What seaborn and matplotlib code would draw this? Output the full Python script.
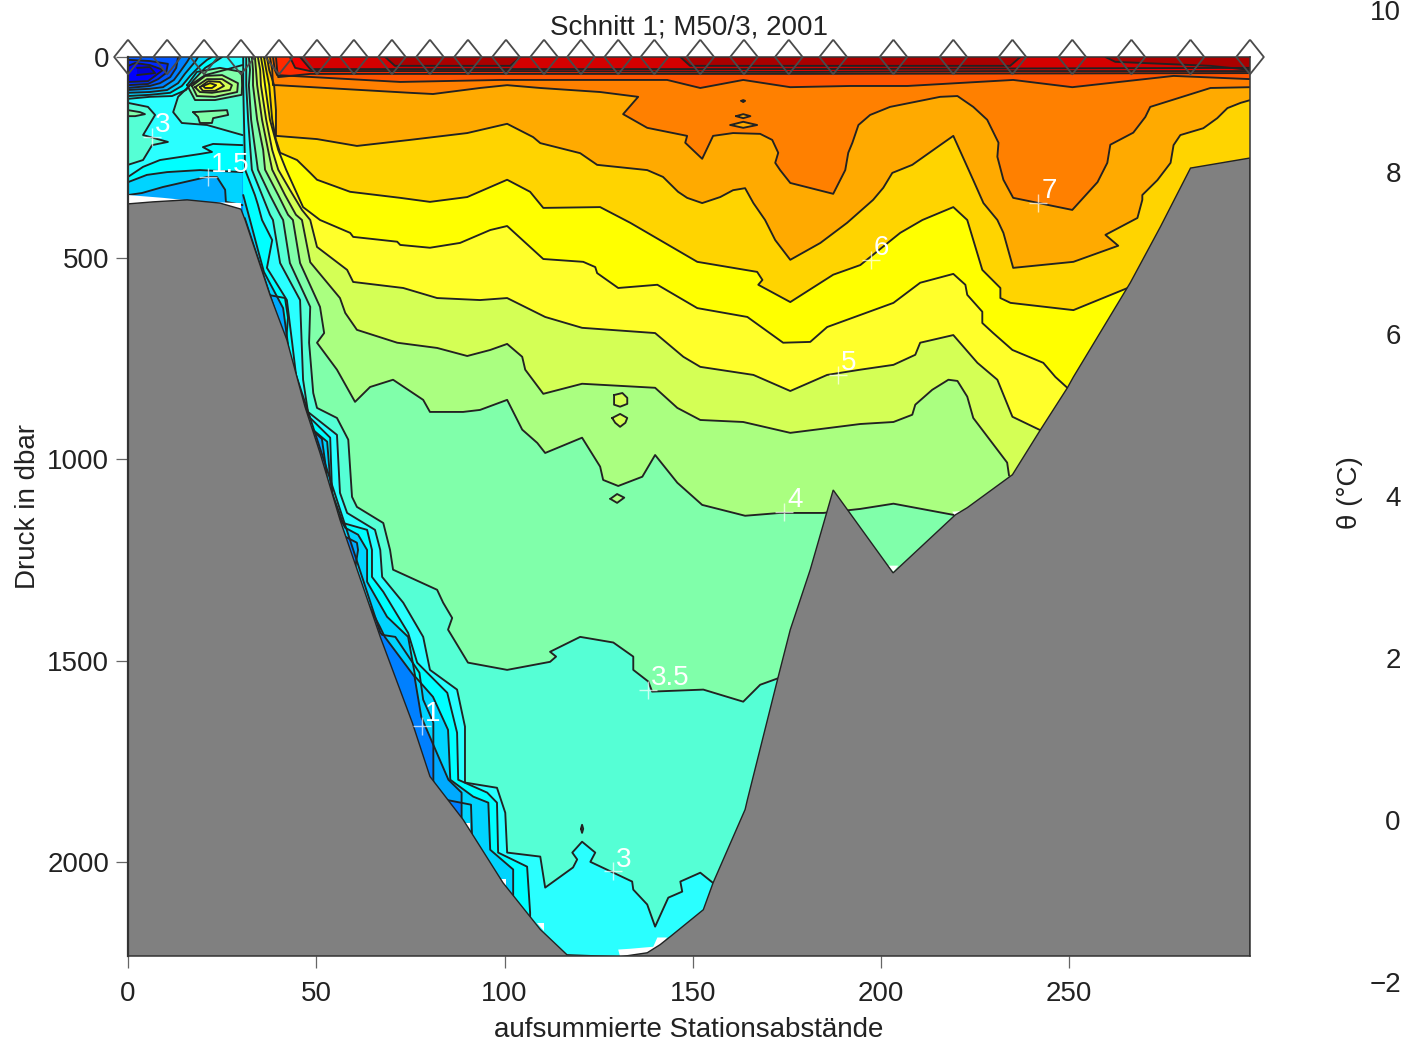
import matplotlib
matplotlib.use('Agg')
import matplotlib.pyplot as plt
import seaborn as sns

sns.set_theme(style='ticks')
plt.rcParams['font.family'] = ['Liberation Sans', 'DejaVu Sans']

X_MAX = 298
D_MAX = 2234

# Station positions (km along the section)
stations = [0, 10.4, 20.2, 30, 40.1, 50.2, 60, 70.1, 80.2, 90.3, 100.4, 110.5, 120.3, 130.2,
            139.8, 152, 163.6, 175.5, 187.3, 203.3, 219.2, 234.9, 250.8, 266.5, 282.2, 298]

# Sea floor
bottom_x = [0, 6.6, 15.7, 24.4, 30, 31.1, 37.7, 42.2, 47, 51, 56.3, 67, 75.5, 80.2, 89, 99.6, 109.5, 116.6,
            130.7, 137.9, 141.3, 144, 152.8, 155.4, 163.9, 164.5, 172.7, 175.9, 181.2, 187.3, 203.2, 219.7,
            222.9, 234.9, 242.3, 249.5, 251.1, 266.2, 274.2, 282.2, 298]
bottom_d = [365, 360, 355, 363, 378, 405, 591, 703, 869, 984, 1150, 1441, 1654, 1788, 1895, 2052, 2168, 2231,
            2236, 2226, 2206, 2186, 2119, 2052, 1870, 1846, 1540, 1423, 1274, 1076, 1282, 1138,
            1120, 1038, 927, 822, 795, 561, 422, 276, 251]

# Isotherm depths, main section
x_10 = [30, 31, 67, 67.5, 71, 77.4, 78.4, 81.1, 81.1, 81.1, 84, 91.1, 91.4, 91.8]
d_10 = [0, 400, 1430, 1436, 1441, 1530, 1597, 1654, 1753, 1820, 1845, 1858, 1945, 2000]

x_15 = [30, 30.6, 37.2, 41.7, 42.5, 42, 45.2, 48, 49.2, 51.5, 52.6, 53, 57.7, 60.8, 61.1, 60, 66.9, 68.2, 76.1,
        77.9, 85.1, 88.6, 88.6, 94.8, 95.3]
d_15 = [0, 400, 591, 599, 648, 703, 869, 929, 929, 949, 1023, 1073, 1192, 1207, 1225, 1290, 1416, 1441, 1540,
        1640, 1796, 1828, 1928, 2010, 2077]

x_20 = [30, 30.6, 32.4, 34.5, 36.1, 41.2, 42.5, 43.8, 46.5, 49.2, 52.9, 53.7, 55, 57.7, 61.1, 63.5, 63.5, 68.8,
        74.4, 76.3, 81, 85, 85.6, 91.7, 95.7, 96.2, 102.3, 102.3, 102.3]
d_20 = [0, 343, 405, 479, 534, 624, 715, 840, 902, 927, 956, 1051, 1125, 1170, 1187, 1225, 1304, 1391,
        1441, 1540, 1590, 1672, 1796, 1838, 1853, 1970, 2019, 2077, 2156]

x_25 = [30.6, 30.6, 30.8, 31.1, 33.7, 34.5, 35.6, 38.3, 36.9, 42.2, 43.6, 45.2, 48.4, 53.7, 54.2, 57.1, 63.5,
        64.8, 64.8, 67.8, 74.4, 76.8, 84.8, 87.4, 87.7, 95.4, 98, 98.3, 106, 106.8, 106.8]
d_25 = [0, 70, 156, 280, 343, 367, 405, 455, 524, 604, 710, 835, 897, 946, 1083, 1158, 1175,
        1225, 1292, 1329, 1431, 1505, 1580, 1679, 1796, 1828, 1853, 1977, 2012, 2126, 2180]

x_30 = [31.4, 31.4, 31.4, 31.9, 32.9, 35.6, 37.7, 38.5, 40.4, 45.7, 46.5, 47.8, 55.5, 56.3, 58.2, 65.6, 67,
        67.5, 73.1, 78.4, 80.2, 87.4, 89.5, 89.5, 98, 100.2, 100.7, 109.5, 110.8, 118.2, 119.3, 118, 120.6,
        124.1, 122.8, 133.9, 134.2, 137.9, 140, 143.5, 147.2, 146.7, 152, 156]
d_30 = [0, 32, 70, 156, 280, 343, 392, 405, 512, 604, 802, 882, 939, 1083, 1133, 1175, 1225,
        1292, 1356, 1441, 1523, 1572, 1664, 1803, 1816, 1878, 1977, 1987, 2064, 2014, 1994, 1977, 1950,
        1977, 2000, 2049, 2069, 2106, 2161, 2089, 2074, 2049, 2027, 2057]

x_35 = [32.1, 32.4, 32.1, 32.7, 34.5, 37.7, 40.4, 41.2, 43, 48.4, 48.1, 49.2, 50.2, 55.5, 58.5, 59.5, 60.8, 67.8,
        69.6, 70.4, 82.1, 83.7, 86.1, 85, 90.3, 100.7, 112.1, 113.7, 112.1, 120.1, 128.9, 134.2, 134.2, 138.2,
        139.2, 152.8, 163.4, 167.9, 173.8]
d_35 = [0, 32, 70, 156, 280, 343, 392, 405, 512, 621, 710, 835, 872, 897, 951, 1093, 1118, 1158,
        1225, 1274, 1324, 1356, 1394, 1423, 1505, 1523, 1503, 1490, 1478, 1441, 1455, 1490, 1523, 1552,
        1577, 1572, 1602, 1560, 1540]

x_40 = [32.9, 33.2, 33.2, 34.3, 35.9, 36.4, 39.9, 42.5, 43.8, 45.7, 51, 52.1, 50.2, 55.5, 60.3, 64.3, 70.4,
        78.4, 80.2, 89, 93.5, 100.7, 104.7, 108.7, 110.8, 120.6, 125.4, 126.2, 130.2, 136.6, 140, 145.9,
        152.5, 163.9, 173.2, 184.7, 194.5, 203.3, 220.5]
d_40 = [0, 32, 70, 156, 231, 280, 343, 392, 405, 512, 621, 686, 710, 777, 857, 820, 802,
        852, 882, 882, 877, 852, 926, 959, 984, 946, 1018, 1051, 1066, 1043, 989, 1058,
        1113, 1140, 1133, 1133, 1123, 1110, 1140]

x_45 = [33.7, 34, 34.3, 35.6, 37.2, 38.3, 41.7, 44.6, 46.2, 48.4, 56.3, 57.7, 60.8, 71.5, 82.1, 90.1, 96.2, 100.7,
        104.7, 105.5, 110.3, 120.6, 140, 145.9, 152, 163.4, 175.9, 194.5, 203.3, 208.3, 209.1, 213.6, 217.9,
        220.3, 222.9, 224.5, 233.5, 234]
d_45 = [0, 32, 70, 156, 231, 280, 343, 392, 405, 510, 599, 636, 678, 710, 723, 743, 728, 713,
        745, 777, 837, 812, 822, 872, 902, 907, 934, 912, 907, 889, 864, 827, 802,
        805, 844, 897, 1008, 1040]

x_50 = [34.5, 35.1, 35.3, 36.7, 38.3, 39.9, 43, 46.2, 48.4, 50.2, 58.2, 59.8, 73.1, 82.1, 93.5, 100.7, 110.8,
        120.6, 140, 147.5, 152, 166.1, 175.9, 185.7, 194.5, 203.3, 209.1, 210.4, 219.2, 225.6, 230.9, 234.9, 242.9]
d_50 = [0, 32, 70, 156, 231, 280, 330, 380, 405, 472, 529, 559, 574, 599, 604, 599, 646,
        673, 686, 745, 770, 790, 830, 790, 777, 765, 740, 710, 691, 760, 802, 894, 930]

x_55 = [35.3, 35.9, 36.4, 37.7, 39.9, 42, 46.5, 51, 59, 59.8, 71.5, 72.3, 80.2, 88.2, 96.2, 100.7, 110.3, 120.9,
        124.1, 124.6, 130.2, 140.6, 151.2, 164.5, 174, 181.2, 185.7, 203.3, 210.4, 219.2, 222.4, 222.9, 226.9,
        226.9, 229.8, 234.9, 243.1, 246.3, 251.6]
d_55 = [0, 32, 70, 156, 231, 280, 373, 405, 437, 447, 459, 467, 474, 462, 430, 420, 502, 509,
        522, 537, 574, 566, 624, 646, 710, 708, 671, 611, 561, 539, 566, 591, 633,
        661, 686, 728, 760, 795, 840]

x_60 = [36.1, 36.7, 37.5, 38.3, 39.3, 40.4, 44.9, 48.4, 50.2, 59, 72.3, 80.2, 90.1, 100.7, 106.8, 110.3, 125.4,
        133.4, 151.2, 167.1, 168.5, 167.4, 175.9, 187.3, 194.5, 205.1, 211, 219.2, 222.9, 226.9, 231.7, 231.7,
        234.4, 251.1, 267.6]
d_60 = [0, 32, 70, 156, 206, 238, 256, 288, 305, 335, 350, 360, 348, 305, 335, 375, 373,
        412, 509, 534, 554, 566, 609, 541, 517, 437, 405, 373, 405, 529, 574, 599,
        611, 629, 566]

x_65 = [36.9, 37.5, 38.8, 39.3, 39.3, 50.2, 60.8, 74.9, 90.1, 100.7, 107.6, 109.5, 120.1, 124.6, 137.9, 142.1,
        146.1, 148.5, 152.5, 157.3, 160.7, 163.9, 166.1, 169.2, 171.9, 175.9, 183.9, 191, 197.9, 200.6, 203,
        208.3, 215.7, 219.2, 224.5, 227.2, 230.9, 232.5, 235.1, 251.1, 263, 259.6, 268.1, 269.4, 269.4, 273.4,
        276.9, 277.7, 279.5, 285.6, 289.3, 292, 295.5, 298.1]
d_65 = [0, 32, 70, 132, 196, 204, 221, 206, 189, 166, 199, 214, 239, 268, 281, 298,
        335, 350, 363, 348, 331, 326, 363, 405, 455, 504, 462, 412, 355, 325, 288,
        268, 219, 196, 306, 363, 405, 437, 524, 509, 469, 442, 400, 355, 343, 306,
        263, 219, 194, 177, 152, 127, 114, 107]

x_70 = [37.7, 38.3, 38.5, 39.6, 74.9, 81, 93.5, 100.7, 109.5, 125.4, 135.5, 131.5, 137.9, 148.5, 148, 152.5,
        155.4, 160.7, 167.9, 171.1, 172.7, 171.9, 173.2, 175.9, 187.3, 190.5, 191.3, 192.4, 194, 197.1, 202.4,
        215.7, 220.3, 224.5, 228.2, 231.2, 230.9, 232.5, 235.1, 250.8, 257.5, 260.1, 260.9, 267, 270.2, 271.5,
        287.5, 298.1]
d_70 = [0, 32, 70, 70, 89, 92, 77, 70, 77, 87, 99, 142, 176, 196, 213, 253,
        196, 189, 191, 206, 238, 263, 281, 313, 340, 281, 238, 213, 169, 144, 124,
        99, 97, 124, 156, 213, 248, 305, 350, 380, 311, 263, 218, 188, 149, 124,
        77, 75]

x_75 = [38.5, 39, 39.6, 72.3, 98.8, 143.2, 152, 163.4, 175.9, 191.8, 207, 235.1, 250.8, 277.7, 298.1]
d_75 = [0, 32, 45, 62, 57, 57, 77, 57, 75, 72, 72, 57, 75, 47, 55]

x_80 = [39.3, 39.6, 39.9, 48.4, 98.8, 178.6, 298.1]
d_80 = [0, 32, 50, 42, 42, 42, 40]

x_85 = [43, 44.4, 48.4, 98.8, 178.6, 231.7, 298.1]
d_85 = [0, 27, 35, 35, 37, 35, 35]

x_90 = [45.7, 48.4, 72.3, 178.6, 298.1]
d_90 = [0, 30, 30, 30, 27]

# Warmest surface patches
x_95a = [68.3, 70.9, 101.5, 104.2]
d_95a = [0, 22, 22, 0]
x_95b = [146.7, 149.3, 234.3, 237]
d_95b = [0, 22, 22, 0]
x_95c = [259.6, 262.2, 287.5, 298.1]
d_95c = [0, 12, 22, 32]

# Closed islands in the main section
isl_lens1_x = [160, 163.4, 167.1, 163.4]
isl_lens1_d = [169, 161, 169, 176]
isl_lens2_x = [161.5, 163.4, 165.3, 163.4]
isl_lens2_d = [147, 142, 147, 152]
isl_dot_x = [162.9, 163.4, 163.9, 163.4]
isl_dot_d = [109, 107, 109, 112]
isl_a_x = [129.1, 131.3, 132.6, 132.6, 130.7, 129.1]
isl_a_d = [840, 835, 847, 862, 869, 864]
isl_b_x = [128.6, 130.7, 132.6, 132.1, 130.7, 129.4]
isl_b_d = [897, 887, 897, 909, 919, 909]
isl_c_x = [128.1, 129.9, 131.8, 129.9]
isl_c_d = [1098, 1086, 1095, 1108]
isl_deep_x = [120.3, 120.6, 120.9, 120.6]
isl_deep_d = [1918, 1908, 1918, 1928]

# Cold shelf box at the west end
w15_x = [0, 3.7, 9.3, 21, 23.6, 25.8, 26, 30.4]
w15_d = [343, 338, 323, 298, 298, 330, 360, 368]
w20_x = [0, 5, 10.4, 19.1, 30.4]
w20_d = [311, 293, 286, 281, 286]
w25_x = [0, 4, 8.5, 19.1, 22.3, 19.9, 22.6, 30.4]
w25_d = [298, 273, 256, 241, 236, 224, 216, 219]
w30a_x = [0, 4, 6.4, 10.6, 4, 7.2, 5.3, 0]
w30a_d = [268, 256, 219, 211, 194, 144, 124, 114]
w30b_x = [30.4, 21, 14.3, 12, 13.3, 16.5, 20.5, 25.8, 30.4]
w30b_d = [194, 169, 164, 137, 99, 70, 45, 32, 20]
w35a_x = [17.3, 26.3, 26.6, 22.6, 22.3, 19.1, 18.6]
w35a_d = [137, 132, 144, 152, 164, 164, 149]
w35b_x = [0, 3.2, 4.5, 1.9, 0]
w35b_d = [132, 137, 142, 147, 147]
eddy35_x = [15.7, 18.3, 24.4, 30.2, 30.3, 30.2, 23.1, 17.8]
eddy35_d = [70, 37, 27, 37, 70, 94, 107, 107]
eddy40_x = [17, 20.5, 25, 29.2, 29, 23.1, 18.3]
eddy40_d = [72, 47, 45, 65, 87, 99, 97]
eddy45_x = [17.8, 21, 25, 27.6, 27.1, 22.3, 19.1]
eddy45_d = [75, 55, 55, 70, 82, 89, 87]
eddy50_x = [19.1, 21.3, 24.4, 25.5, 23.1, 19.9]
eddy50_d = [75, 60, 62, 72, 84, 84]
eddy55_x = [19.9, 21.8, 23.4, 22.3, 20.5]
eddy55_d = [72, 65, 70, 77, 77]

c25_x = [0, 5.8, 11.7, 15.4, 17.5, 20.5, 22.6, 25]
c25_d = [104, 99, 97, 82, 57, 27, 15, 0]
c20_x = [0, 5.8, 11.2, 14.3, 16.5, 19.1, 21, 22.3]
c20_d = [97, 94, 89, 72, 47, 22, 7, 0]
c15_x = [0, 5.8, 10.4, 13.3, 15.1, 17.8, 18.6]
c15_d = [89, 87, 82, 65, 42, 12, 0]
c10_x = [0, 5.8, 9.3, 12.2, 13.8, 15.7, 16.5]
c10_d = [82, 79, 75, 57, 37, 12, 0]
c05_x = [0, 5.8, 8.5, 11.2, 12.8, 13.3]
c05_d = [77, 72, 65, 50, 27, 0]
c00_x = [0, 5.3, 8, 10.1, 10.6, 5.8, 0]
c00_d = [70, 67, 55, 40, 17, 10, 7]
cm05_x = [0, 5.3, 7.2, 9.3, 5.8, 1.9, 0]
cm05_d = [62, 60, 47, 32, 20, 15, 22]
cm10_x = [2.4, 7.2, 5.8, 2.4]
cm10_d = [45, 40, 25, 27]

# Gaps between the data and the sea floor
gap_west_x = [0, 9.3, 19.9, 30, 30, 0]
gap_west_d = [343, 350, 360, 363, 400, 400]
gap_floor_x = [130.2, 133.4, 139.5, 140.6, 143.2, 141.3, 137.9, 130.7]
gap_floor_d = [2218, 2216, 2211, 2188, 2188, 2211, 2226, 2236]
gap_small = [([201.9, 204.6, 203.3], [1264, 1264, 1279]),
             ([218.9, 221.6, 219.7], [1130, 1128, 1140]),
             ([89.3, 90.9, 90.9], [1903, 1903, 1920]),
             ([98.6, 100.4, 100.4], [2042, 2042, 2059]),
             ([108.7, 110.5, 110.5], [2151, 2151, 2171])]

# Contour labels
label_text = ['3', '1.5', '7', '6', '5', '4', '3.5', '3', '1']
label_x = [6.4, 21.3, 241.8, 197.4, 188.6, 174.3, 138.2, 128.9, 78.1]
label_d = [199, 298, 363, 504, 790, 1130, 1572, 2024, 1662]

x_ticks = [0, 50, 100, 150, 200, 250]
y_ticks = [0, 500, 1000, 1500, 2000]
cbar_ticks = [-2, 0, 2, 4, 6, 8, 10]

fig = plt.figure(figsize=(14.06, 10.47), dpi=100)
ax = fig.add_axes([128 / 1406, 1 - 956 / 1047, 1122 / 1406, 899 / 1047])
ax.set_facecolor('#0080FF')

LINE = dict(color='#222222', linewidth=1.35, sort=False, estimator=None, legend=False, ax=ax)


def contour(x, d, closed=False):
    if closed:
        x = x + x[:1]
        d = d + d[:1]
    sns.lineplot(x=x, y=d, zorder=3, **LINE)


# Warm side of each isotherm is painted on top of the colder one
main_bands = [(x_10, d_10, '#00AAFF'), (x_15, d_15, '#00D4FF'), (x_20, d_20, '#00FFFF'), (x_25, d_25, '#2AFFFF'),
              (x_30, d_30, '#55FFD5'), (x_35, d_35, '#80FFAA'), (x_40, d_40, '#AAFF80'), (x_45, d_45, '#D4FF55'),
              (x_50, d_50, '#FFFF2A'), (x_55, d_55, '#FFFF00'), (x_60, d_60, '#FFD400'), (x_65, d_65, '#FFAA00'),
              (x_70, d_70, '#FF8000'), (x_75, d_75, '#FF5500'), (x_80, d_80, '#FF2A00'), (x_85, d_85, '#F00000'),
              (x_90, d_90, '#D40000')]
for x, d, col in main_bands:
    ax.fill(x + [x[-1], X_MAX, X_MAX], d + [D_MAX, D_MAX, 0], color=col, lw=0, zorder=1)
    # the three coldest lines only show below the shelf
    if x is x_10 or x is x_15 or x is x_20:
        contour(x[1:], d[1:])
    else:
        contour(x, d)

for x, d in [(x_95a, d_95a), (x_95b, d_95b), (x_95c, d_95c)]:
    ax.fill(x + [x[-1]], d + [0], color='#AA0000', lw=0, zorder=2)
    contour(x, d)

for x, d, col in [(isl_lens1_x, isl_lens1_d, '#FFAA00'), (isl_lens2_x, isl_lens2_d, '#FFAA00'),
                  (isl_dot_x, isl_dot_d, '#FFAA00'), (isl_a_x, isl_a_d, '#D4FF55'),
                  (isl_b_x, isl_b_d, '#D4FF55'), (isl_c_x, isl_c_d, '#AAFF80'),
                  (isl_deep_x, isl_deep_d, '#2AFFFF')]:
    ax.fill(x, d, color=col, lw=0, zorder=2)
    contour(x, d, closed=True)

# West box
ax.fill([0, 30.4, 30.4, 0], [0, 0, 400, 400], color='#00AAFF', lw=0, zorder=2)
for x, d, col in [(w15_x, w15_d, '#00D4FF'), (w20_x, w20_d, '#00FFFF'), (w25_x, w25_d, '#2AFFFF')]:
    ax.fill(x + [30.4, 0], d + [0, 0], color=col, lw=0, zorder=2)
    contour(x, d)

for x, d, col in [(w30a_x, w30a_d, '#55FFD5'), (w30b_x, w30b_d, '#55FFD5'), (w35a_x, w35a_d, '#80FFAA'),
                  (w35b_x, w35b_d, '#80FFAA'), (eddy35_x, eddy35_d, '#80FFAA'), (eddy40_x, eddy40_d, '#AAFF80'),
                  (eddy45_x, eddy45_d, '#D4FF55'), (eddy50_x, eddy50_d, '#FFFF2A'), (eddy55_x, eddy55_d, '#FFFF00')]:
    ax.fill(x, d, color=col, lw=0, zorder=2.5)
    contour(x, d, closed=x[0] != 0 and x is not w30b_x)

for x, d, col in [(c25_x, c25_d, '#00FFFF'), (c20_x, c20_d, '#00D4FF'), (c15_x, c15_d, '#00AAFF'),
                  (c10_x, c10_d, '#0080FF'), (c05_x, c05_d, '#0055FF')]:
    ax.fill(x + [0], d + [0], color=col, lw=0, zorder=2.6)
    contour(x, d)
for x, d, col in [(c00_x, c00_d, '#002AFF'), (cm05_x, cm05_d, '#0000FF'), (cm10_x, cm10_d, '#0000D4')]:
    ax.fill(x, d, color=col, lw=0, zorder=2.7)
    contour(x, d)

# White gaps and sea floor
ax.fill(gap_west_x, gap_west_d, color='white', lw=0, zorder=4)
ax.fill(gap_floor_x, gap_floor_d, color='white', lw=0, zorder=4)
for x, d in gap_small:
    ax.fill(x, d, color='white', lw=0, zorder=4)
ax.fill(bottom_x + [X_MAX, 0], bottom_d + [D_MAX + 50, D_MAX + 50], facecolor='#808080', edgecolor='#222222',
        linewidth=1.0, zorder=5)

# Contour labels
sns.scatterplot(x=label_x, y=label_d, marker='+', color='white', s=150, linewidth=1.0, alpha=0.7, zorder=6, ax=ax,
                legend=False)
for txt, x, d in zip(label_text, label_x, label_d):
    ax.annotate(txt, (x, d), xytext=(2, -1), textcoords='offset points', color='white', fontsize=20,
                ha='left', va='bottom', zorder=7)

# Station markers along the surface
diamond = [(0, 1), (0.8, 0), (0, -1), (-0.8, 0), (0, 1)]
sns.scatterplot(x=stations, y=[0] * len(stations), marker=diamond, s=620, color='none', edgecolor='#4a4a4a',
                linewidth=1.3, clip_on=False, zorder=8, ax=ax, legend=False)

ax.set_xlim(0, X_MAX)
ax.set_ylim(D_MAX, 0)
ax.set_xticks(x_ticks)
ax.set_yticks(y_ticks)
ax.tick_params(labelsize=20, length=8.6, width=0.9, color='#666666', labelcolor='#222222')
ax.tick_params(axis='x', pad=9.4)
ax.tick_params(axis='y', pad=5)
ax.set_title('Schnitt 1; M50/3, 2001', fontsize=20, color='#222222', pad=16.5)
ax.set_xlabel('aufsummierte Stationsabstände', fontsize=20, color='#222222', labelpad=7)
ax.set_ylabel('Druck in dbar', fontsize=20, color='#222222', labelpad=4.5)
for name, s in ax.spines.items():
    s.set_color('#333333')
    s.set_linewidth(1.6 if name == 'left' else 1.1)
    s.set_zorder(7)

# Colour scale was lost in the original, only its ticks remain
cax = fig.add_axes([1405 / 1406, 1 - 982 / 1047, 0.0005, 972 / 1047])
cax.set_ylim(-2, 10)
cax.set_xticks([])
cax.set_yticks(cbar_ticks)
cax.set_yticklabels(['\u2212' + str(-t) if t < 0 else str(t) for t in cbar_ticks])
cax.tick_params(labelsize=20, length=0, colors='#222222', pad=3)
for s in cax.spines.values():
    s.set_visible(False)
cax.patch.set_visible(False)
fig.text(1350 / 1406, 1 - 493 / 1047, 'θ (°C)', rotation=90, fontsize=20, color='#222222', ha='center', va='center')

fig.savefig('out.png', dpi=100)
